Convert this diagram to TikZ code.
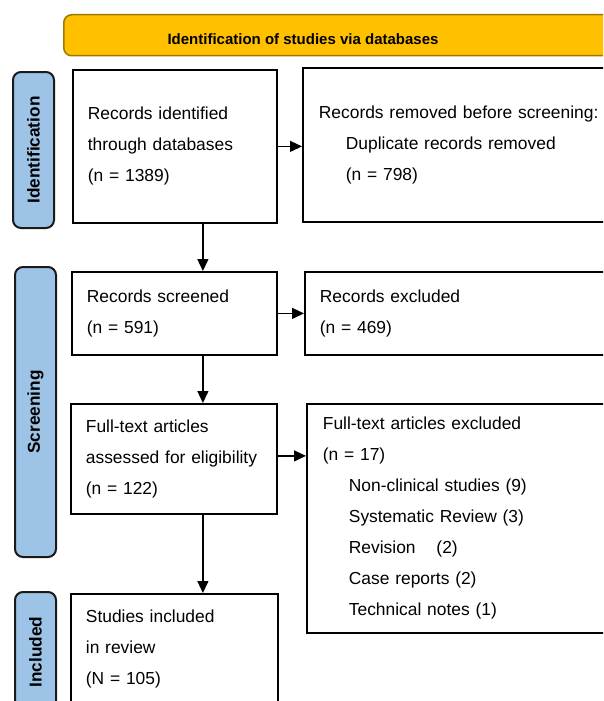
\documentclass[tikz,border=0pt]{standalone}
\usepackage{fontspec}
\setmainfont{Liberation Sans}
\usetikzlibrary{arrows.meta}
\definecolor{bannerfill}{HTML}{FFC000}
\definecolor{bannerdraw}{HTML}{A07800}
\definecolor{labelfill}{HTML}{9DC3E6}
\definecolor{labeldraw}{HTML}{1A1A1A}
\tikzset{
  box/.style={draw=black, line width=1.8pt, anchor=north west, inner xsep=15pt, inner ysep=0pt,
    align=left, font=\fontsize{17.4}{31}\selectfont, text=black},
  phase/.style={draw=labeldraw, fill=labelfill, line width=2pt, rounded corners=8pt, rotate=90,
    minimum height=41pt, inner sep=0pt, font=\fontsize{17.2}{20}\selectfont\bfseries},
  flow/.style={line width=1.3pt, -{Triangle[length=12pt,width=11pt]}},
}
\begin{document}
\begin{tikzpicture}[x=1pt,y=-1pt]
\useasboundingbox (0,0) rectangle (603,701);
\clip (0,0) rectangle (603,701);
\fill[white] (0,0) rectangle (603,701);
% banner
\node[draw=bannerdraw, fill=bannerfill, line width=1.5pt, rounded corners=8pt, anchor=north west,
  minimum width=700pt, minimum height=41pt, inner sep=0pt] (banner) at (63,14) {};
\node[font=\fontsize{15}{18}\selectfont\bfseries] (bannertext) at (303,39.5) {Identification of studies via databases};
% phase labels
\node[phase, minimum width=156pt] (lid) at (33.5,150) {Identification};
\node[phase, minimum width=290pt] (lsc) at (35.5,412) {Screening};
\node[phase, minimum width=120pt] (lin) at (35.5,652) {Included};
% boxes
\node[box, text width=174pt, minimum height=153pt] (b1) at (72,69)
  {Records identified\\through databases\\(n = 1389)};
\node[box, inner xsep=16pt, text width=368pt, minimum height=154pt] (b2) at (302,67)
  {Records removed before screening:\\\hspace*{27pt}Duplicate records removed\\\hspace*{27pt}(n = 798)};
\node[box, text width=175pt, minimum height=83pt] (sc) at (71,271)
  {Records screened\\(n = 591)};
\node[box, text width=370pt, minimum height=83pt] (ex) at (304,271)
  {Records excluded\\(n = 469)};
\node[box, text width=176pt, minimum height=110pt] (ft) at (70,403)
  {Full-text articles\\assessed for eligibility\\(n = 122)};
\node[box, inner xsep=16pt, text width=368pt, minimum height=229pt] (fex) at (306,403)
  {Full-text articles excluded\\(n = 17)\\\hspace*{26pt}Non-clinical studies (9)\\\hspace*{26pt}Systematic Review (3)\\\hspace*{26pt}Revision\hspace{1.2em}(2)\\\hspace*{26pt}Case reports (2)\\\hspace*{26pt}Technical notes (1)};
\node[box, text width=177pt, minimum height=110pt] (inc) at (70,593)
  {Studies included\\in review\\(N = 105)};
% connectors
\draw[flow] (b1.east) -- (b1.east -| b2.west);
\draw[flow] ([xshift=28pt]b1.south) -- ([xshift=28pt]b1.south |- sc.north);
\draw[flow] (sc.east) -- (sc.east -| ex.west);
\draw[flow] ([xshift=28.5pt]sc.south) -- ([xshift=28.5pt]sc.south |- ft.north);
\draw[flow] ([yshift=3pt]ft.east) -- ([yshift=3pt]ft.east -| fex.west);
\draw[flow] ([xshift=29pt]ft.south) -- ([xshift=29pt]ft.south |- inc.north);
\end{tikzpicture}
\end{document}
